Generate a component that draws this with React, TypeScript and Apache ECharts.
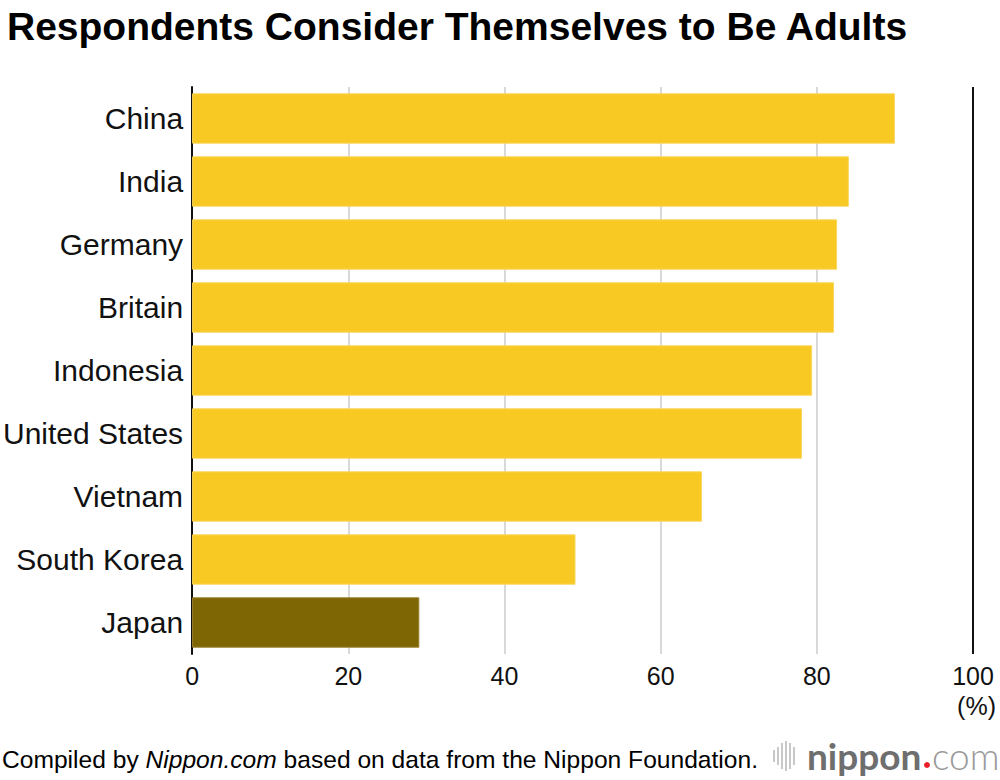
import React, { useEffect, useRef } from "react";
import * as echarts from "echarts";

const countries = ["China", "India", "Germany", "Britain", "Indonesia", "United States", "Vietnam", "South Korea", "Japan"];
const values = [90.0, 84.1, 82.6, 82.2, 79.4, 78.1, 65.3, 49.1, 29.1];
const xTicks = [0, 20, 40, 60, 80, 100];
const highlight = "Japan";

const FONT = "'Liberation Sans', Arial, Helvetica, sans-serif";

export default function App() {
  const ref = useRef<HTMLDivElement>(null);
  useEffect(() => {
    if (!ref.current) return;
    const chart = echarts.init(ref.current, null, { renderer: "svg" });
    const logoBars = [
      { dx: 0, h: 12 },
      { dx: 4, h: 18 },
      { dx: 8, h: 26 },
      { dx: 12, h: 30 },
      { dx: 16, h: 26 },
      { dx: 20, h: 18 },
    ];
    chart.setOption({
      animation: false,
      textStyle: { fontFamily: FONT },
      grid: { left: 192, right: 27, top: 87, bottom: 126, containLabel: false },
      xAxis: {
        type: "value",
        min: 0,
        max: 100,
        interval: 20,
        axisLine: { show: false },
        axisTick: { show: false },
        axisLabel: { fontSize: 25, color: "#111", margin: 9, fontFamily: FONT, formatter: (v: number) => (xTicks.includes(v) ? String(v) : "") },
        splitLine: { show: true, lineStyle: { color: "#cccccc", width: 1.5 } },
      },
      yAxis: {
        type: "category",
        data: countries,
        inverse: true,
        axisLine: { show: true, lineStyle: { color: "#111", width: 2 } },
        axisTick: { show: false },
        axisLabel: { fontSize: 30, color: "#111", margin: 9, padding: [3, 0, 0, 0], fontFamily: FONT },
      },
      series: [
        {
          type: "bar",
          barCategoryGap: "20%",
          data: values.map((v, i) =>
            countries[i] === highlight
              ? { value: v, itemStyle: { color: "#7f6605", borderColor: "#9a8330", borderWidth: 1 } }
              : { value: v, itemStyle: { color: "#f8c923", borderColor: "#fad65e", borderWidth: 1 } }
          ),
          markLine: {
            silent: true,
            symbol: "none",
            label: { show: false },
            lineStyle: { color: "#111", width: 2, type: "solid" },
            data: [{ xAxis: 100 }],
          },
        },
      ],
      graphic: [
        {
          type: "text",
          x: 7,
          y: 26,
          style: { text: "Respondents Consider Themselves to Be Adults", font: `bold 39px ${FONT}`, fill: "#000", verticalAlign: "middle" },
        },
        {
          type: "text",
          x: 996,
          y: 706,
          style: { text: "(%)", font: `25px ${FONT}`, fill: "#111", align: "right", verticalAlign: "middle" },
        },
        {
          type: "text",
          x: 2,
          y: 759,
          style: {
            text: "{a|Compiled by }{b|Nippon.com}{a| based on data from the Nippon Foundation.}",
            verticalAlign: "middle",
            rich: {
              a: { fontSize: 24.6, fontFamily: FONT, fill: "#000" },
              b: { fontSize: 24.6, fontFamily: FONT, fontStyle: "italic", fill: "#000" },
            },
          },
        },
        ...logoBars.map((b) => ({
          type: "rect",
          shape: { x: 773 + b.dx, y: 756 - b.h / 2, width: 2, height: b.h },
          style: { fill: "#c8c8c8" },
        })),
        {
          type: "text",
          x: 807,
          y: 755,
          style: { text: "nippon", font: `bold 37px Lato, sans-serif`, fill: "#6e6e6e", verticalAlign: "middle" },
        },
        {
          type: "circle",
          shape: { cx: 927, cy: 765, r: 3 },
          style: { fill: "#e8202a" },
        },
        {
          type: "text",
          x: 932,
          y: 755,
          style: { text: "com", font: `300 37px Lato, sans-serif`, fill: "#9a9a9a", verticalAlign: "middle" },
        },
      ],
    });
    return () => chart.dispose();
  }, []);
  return <div ref={ref} style={{ width: 1000, height: 780, position: "absolute", left: 0, top: 0 }} />;
}
